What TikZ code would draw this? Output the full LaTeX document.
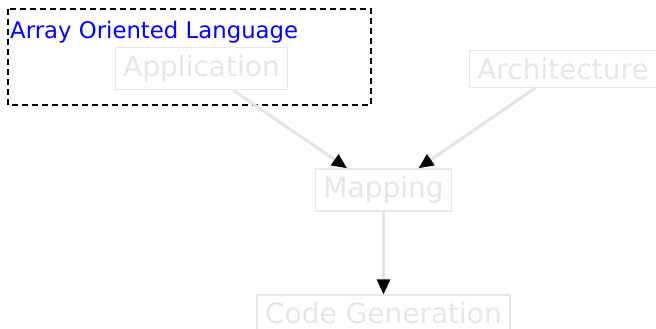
\documentclass[tikz,border=0pt]{standalone}
\usepackage{fontspec}
\setmainfont{DejaVu Sans}
\usetikzlibrary{arrows.meta,calc}
\definecolor{paleText}{RGB}{230,230,230}
\definecolor{paleEdge}{RGB}{232,232,232}
\definecolor{paleLine}{RGB}{228,228,228}
\tikzset{
  stage/.style={draw=paleEdge, line width=1.5pt, text=paleText,
    font=\fontsize{28}{30}\selectfont, inner xsep=8pt, inner ysep=7.5pt},
  flow/.style={draw=paleLine, line width=3pt,
    -{Triangle[length=15pt,width=13pt,color=black]}},
  group/.style={draw=black, line width=1.1pt, dash pattern=on 6pt off 4pt},
  grouplabel/.style={text=blue, font=\fontsize{22.8}{24}\selectfont,
    inner sep=0pt, anchor=base west}
}
\begin{document}
\begin{tikzpicture}[x=1pt,y=1pt]
  \useasboundingbox (0,0) rectangle (656,-329);
  \fill[white] (0,0) rectangle (656,-329);

  % language grouping frame
  \draw[group] (8,-9) rectangle (371,-105);
  \node[grouplabel] (lang) at (10,-38.5) {Array Oriented Language};

  % compilation stages
  \node[stage] (app)  at (201.5,-68.5) {Application};
  \node[stage] (arch) at (563,-69)     {Architecture};
  \node[stage] (map)  at (383.5,-190)  {Mapping};
  \node[stage] (code) at (383.5,-313.5) {Code Generation};

  % arrow targets on top of the mapping stage
  \coordinate (mapL) at ([xshift=-36.5pt]map.north);
  \coordinate (mapR) at ([xshift=35pt]map.north);

  \draw[flow] (app) -- (mapL);
  \draw[flow] (arch) -- (mapR);
  \draw[flow] (map.south) -- (code.north);
\end{tikzpicture}
\end{document}
